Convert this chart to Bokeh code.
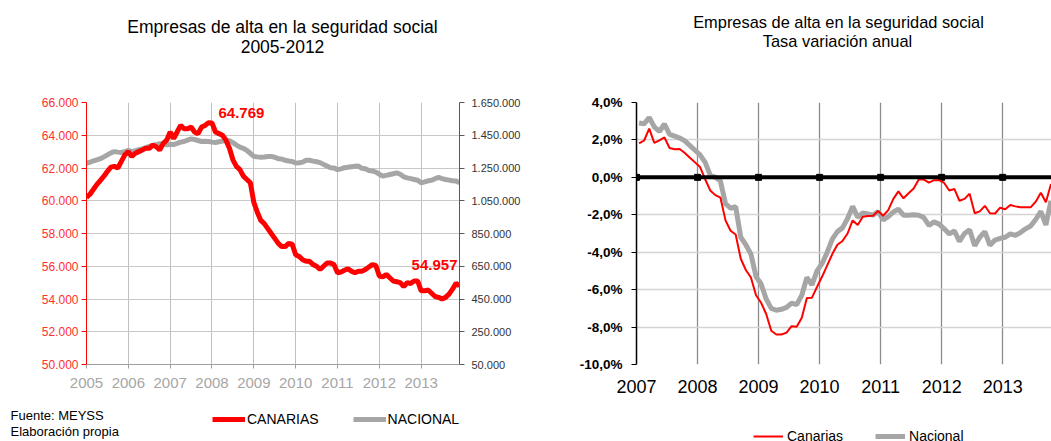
import pandas as pd
from bokeh.plotting import figure
from bokeh.layouts import row, column
from bokeh.models import Range1d, LinearAxis, FixedTicker, Label, Legend, LegendItem, Span
from bokeh.embed import file_html
from bokeh.resources import INLINE

FONT = "Liberation Sans"
RED = "#ff0000"
GREY = "#a6a6a6"

# ---------------- data: left chart (companies registered, monthly 2005-2013) ----------------
canarias_empresas = [
    60200, 60400, 60700, 61000, 61250, 61500, 61800, 62050, 62100, 62000, 62400, 62800,
    63000, 62700, 62900, 63000, 63100, 63200, 63200, 63400, 63300, 63100, 63500, 63700,
    64200, 63800, 64200, 64600, 64400, 64400, 64500, 64200, 64100, 64500, 64600, 64769,
    64750, 64200, 64100, 64000, 63700, 63200, 62500, 62100, 61900, 61500, 61300, 61100,
    59900, 59300, 58800, 58600, 58300, 58000, 57700, 57400, 57200, 57200, 57400, 57350,
    56700, 56600, 56400, 56300, 56300, 56100, 56000, 55800, 56000, 56200, 56200, 56100,
    55600, 55650, 55750, 55850, 55700, 55600, 55700, 55700, 55800, 55950, 56100, 56050,
    55400, 55350, 55500, 55300, 55100, 55050, 55000, 54750, 55000, 54950, 55100, 55100,
    54500, 54500, 54550, 54350, 54150, 54100, 54000, 54100, 54300, 54600, 54957, 54800,
]
nacional_empresas = [
    1280000, 1285000, 1293000, 1300000, 1307000, 1318000, 1330000, 1343000, 1350000, 1347000, 1345000, 1350000,
    1357000, 1350000, 1355000, 1362000, 1367000, 1375000, 1382000, 1388000, 1392000, 1398000, 1393000, 1392000,
    1394000, 1393000, 1400000, 1408000, 1412000, 1420000, 1428000, 1424000, 1418000, 1412000, 1414000, 1412000,
    1408000, 1406000, 1410000, 1414000, 1418000, 1416000, 1405000, 1390000, 1377000, 1370000, 1357000, 1340000,
    1321000, 1318000, 1316000, 1317000, 1320000, 1321000, 1316000, 1307000, 1305000, 1297000, 1293000, 1290000,
    1280000, 1282000, 1286000, 1297000, 1297000, 1292000, 1288000, 1283000, 1272000, 1262000, 1252000, 1250000,
    1240000, 1245000, 1252000, 1255000, 1258000, 1260000, 1262000, 1248000, 1245000, 1235000, 1232000, 1225000,
    1212000, 1200000, 1205000, 1210000, 1215000, 1220000, 1212000, 1196000, 1190000, 1185000, 1180000, 1175000,
    1160000, 1165000, 1172000, 1175000, 1185000, 1192000, 1185000, 1180000, 1176000, 1172000, 1170000, 1160000,
]
years_left = [2005, 2006, 2007, 2008, 2009, 2010, 2011, 2012, 2013]
ticks_canarias = [50000, 52000, 54000, 56000, 58000, 60000, 62000, 64000, 66000]
ticks_nacional = [50000, 250000, 450000, 650000, 850000, 1050000, 1250000, 1450000, 1650000]
label_peak = "64.769"
label_last = "54.957"

# ---------------- data: right chart (annual rate, %, monthly 2007-2013) ----------------
tasa_canarias = [
    1.81, 1.97, 2.6, 1.84, 1.98, 2.13, 1.57, 1.5, 1.52, 1.3, 1.05, 0.8,
    0.55, -0.1, -0.7, -0.95, -1.08, -2.3, -2.85, -3.05, -4.35, -4.95, -5.35, -6.3,
    -6.7, -7.3, -8.2, -8.4, -8.4, -8.3, -7.95, -7.98, -7.5, -6.45, -6.43, -5.85,
    -5.3, -4.7, -4.1, -3.6, -3.4, -3.0, -2.3, -2.55, -2.1, -2.07, -2.05, -1.8,
    -2.05, -1.75, -1.15, -0.75, -1.12, -0.85, -0.6, -0.12, -0.12, -0.28, -0.15, -0.15,
    -0.3, -0.7, -0.62, -1.25, -1.15, -0.87, -1.92, -1.82, -1.52, -1.92, -1.93, -1.62,
    -1.7, -1.48, -1.55, -1.6, -1.6, -1.6, -1.3, -0.82, -1.33, -0.35,
]
tasa_nacional = [
    2.9, 2.86, 3.2, 2.7, 2.45, 2.85, 2.3, 2.2, 2.1, 1.95, 1.7, 1.45,
    1.2, 0.8, 0.12, 0.0, -0.2, -1.4, -1.65, -1.57, -3.2, -3.6, -4.1, -5.3,
    -5.7, -6.5, -7.0, -7.1, -7.05, -6.95, -6.72, -6.8, -6.3, -5.35, -5.75, -5.0,
    -4.6, -4.0, -3.3, -2.9, -2.7, -2.2, -1.55, -2.13, -1.9, -1.95, -2.02, -1.82,
    -2.28, -2.1, -1.85, -1.7, -2.02, -2.02, -2.0, -2.02, -2.15, -2.57, -2.38, -2.5,
    -2.75, -3.02, -2.86, -3.42, -3.0, -2.8, -3.66, -3.2, -2.9, -3.63, -3.35, -3.26,
    -3.2, -3.02, -3.1, -2.95, -2.75, -2.6, -2.25, -1.82, -2.54, -1.25,
]
years_right = [2007, 2008, 2009, 2010, 2011, 2012, 2013]
ticks_tasa = [-10, -8, -6, -4, -2, 0, 2, 4]

meses_left = pd.date_range("2005-01-01", periods=len(canarias_empresas), freq="MS")
t_left = [d.year + (d.month - 1) / 12 for d in meses_left]
meses_right = pd.date_range("2007-01-01", periods=len(tasa_canarias), freq="MS")
t_right = [d.year + (d.month - 0.5) / 12 for d in meses_right]


def miles(v):
    return f"{v:,}".replace(",", ".")


def pct(v):
    return f"{v:.1f}%".replace(".", ",")


def label_in(p, x, y, text, **kw):
    """Text placed in screen px relative to the frame's bottom-left corner."""
    opts = dict(text_font=FONT, text_baseline="middle", text_align="left",
                text_font_size="12px", text_color="#000000")
    opts.update(kw)
    p.add_layout(Label(x=x, y=y, x_units="screen", y_units="screen", text=text, **opts))


def band(width, height):
    """A figure without axes whose frame fills the whole canvas (for titles / legends)."""
    b = figure(width=width, height=height, output_backend="svg", toolbar_location=None,
               x_axis_type=None, y_axis_type=None, x_range=Range1d(0, width), y_range=Range1d(0, height),
               min_border=0, min_border_left=0, min_border_right=0, min_border_top=0, min_border_bottom=0)
    b.outline_line_color = None
    b.grid.visible = False
    return b


TOP_H, MID_H, BOT_H = 56, 344, 41

# ======================= TITLES BAND =======================
p0 = band(1051, TOP_H)
label_in(p0, 282, TOP_H - 26, "Empresas de alta en la seguridad social", text_align="center", text_font_size="17.5px")
label_in(p0, 282, TOP_H - 46, "2005-2012", text_align="center", text_font_size="17.5px")
label_in(p0, 838, TOP_H - 21, "Empresas de alta en la seguridad social", text_align="center", text_font_size="16.4px")
label_in(p0, 837, TOP_H - 40, "Tasa variación anual", text_align="center", text_font_size="16.4px")

# ======================= LEFT CHART =======================
L_FL, L_FB = 86, 366  # frame left / bottom (page px)
p1 = figure(width=545, height=MID_H, output_backend="svg", toolbar_location=None,
            x_range=Range1d(2005, t_left[-1]), y_range=Range1d(50000, 66000),
            min_border_left=86, min_border_right=86, min_border_top=102 - TOP_H,
            min_border_bottom=TOP_H + MID_H - L_FB)
p1.outline_line_color = None
p1.extra_y_ranges = {"nac": Range1d(50000, 1650000)}

p1.xaxis.ticker = FixedTicker(ticks=years_left)
p1.xaxis.major_label_text_font = FONT
p1.xaxis.major_label_text_font_size = "15px"
p1.xaxis.major_label_text_color = "#a6a6a6"
p1.xaxis.axis_line_color = "#a0a0a0"
p1.xaxis.major_tick_line_color = "#a0a0a0"
p1.xaxis.major_tick_out = 4
p1.xaxis.major_tick_in = 0
p1.xaxis.minor_tick_line_color = None
p1.xaxis.major_label_standoff = 9

p1.yaxis.ticker = FixedTicker(ticks=ticks_canarias)
p1.yaxis.major_label_overrides = {v: miles(v) for v in ticks_canarias}
p1.yaxis.major_label_text_font = FONT
p1.yaxis.major_label_text_font_size = "12px"
p1.yaxis.major_label_text_color = "#ff3030"
p1.yaxis.axis_line_color = RED
p1.yaxis.major_tick_line_color = RED
p1.yaxis.major_tick_out = 5
p1.yaxis.major_tick_in = 0
p1.yaxis.minor_tick_line_color = None
p1.yaxis.major_label_standoff = 3

ax_r = LinearAxis(y_range_name="nac", ticker=FixedTicker(ticks=ticks_nacional),
                  major_label_overrides={v: miles(v) for v in ticks_nacional},
                  major_label_text_font=FONT, major_label_text_font_size="11px",
                  major_label_text_color="#333333", axis_line_color="#595959",
                  major_tick_line_color="#595959", major_tick_out=5, major_tick_in=0,
                  minor_tick_line_color=None, major_label_standoff=7)
p1.add_layout(ax_r, "right")

p1.xgrid.ticker = FixedTicker(ticks=years_left)
p1.xgrid.grid_line_color = "#c0c0c0"
p1.ygrid.ticker = FixedTicker(ticks=ticks_canarias)
p1.ygrid.grid_line_color = "#c8c8c8"

p1.line(t_left, nacional_empresas, y_range_name="nac", line_color=GREY, line_width=5)
p1.line(t_left, canarias_empresas, line_color=RED, line_width=5)

label_in(p1, 218 - L_FL, L_FB - 114, label_peak, text_color=RED, text_font_style="bold", text_font_size="15px")
label_in(p1, 457 - L_FL, L_FB - 266, label_last, text_align="right", text_color=RED,
         text_font_style="bold", text_font_size="15px")

# ======================= RIGHT CHART =======================
R_FL, R_FB = 636, 364
p2 = figure(width=506, height=MID_H, output_backend="svg", toolbar_location=None,
            x_range=Range1d(2007, 2013.8), y_range=Range1d(-10, 4),
            min_border_left=91, min_border_right=0, min_border_top=74 - TOP_H,
            min_border_bottom=TOP_H + MID_H - R_FB)
p2.outline_line_color = None

p2.xaxis.ticker = FixedTicker(ticks=years_right)
p2.xaxis.major_label_text_font = FONT
p2.xaxis.major_label_text_font_size = "18px"
p2.xaxis.major_label_text_color = "#000000"
p2.xaxis.axis_line_color = None
p2.xaxis.major_tick_line_color = None
p2.xaxis.minor_tick_line_color = None
p2.xaxis.major_label_standoff = 9

p2.yaxis.ticker = FixedTicker(ticks=ticks_tasa)
p2.yaxis.major_label_overrides = {v: pct(v) for v in ticks_tasa}
p2.yaxis.major_label_text_font = FONT
p2.yaxis.major_label_text_font_size = "13.5px"
p2.yaxis.major_label_text_font_style = "bold"
p2.yaxis.major_label_text_color = "#000000"
p2.yaxis.axis_line_color = "#000000"
p2.yaxis.axis_line_width = 1.5
p2.yaxis.major_tick_line_color = "#000000"
p2.yaxis.major_tick_out = 5
p2.yaxis.major_tick_in = 0
p2.yaxis.minor_tick_line_color = None
p2.yaxis.major_label_standoff = 9

p2.xgrid.ticker = FixedTicker(ticks=years_right)
p2.xgrid.grid_line_color = "#8c8c8c"
p2.xgrid.grid_line_width = 1.3
p2.ygrid.ticker = FixedTicker(ticks=ticks_tasa)
p2.ygrid.grid_line_color = "#d4d4d4"
p2.ygrid.grid_line_width = 1.5

p2.add_layout(Span(location=0, dimension="width", line_color="#000000", line_width=4))
p2.scatter(years_right, [0] * len(years_right), marker="square", size=6, color="#000000")

p2.line(t_right, tasa_nacional, line_color=GREY, line_width=5)
p2.line(t_right, tasa_canarias, line_color=RED, line_width=2)

# ======================= LEGENDS / SOURCE BAND =======================
# legend keys reuse the series data; in this band's ranges they fall outside the frame (not drawn)
p3 = band(1051, BOT_H)
k_can = p3.line(t_left, canarias_empresas, line_color=RED, line_width=5)
k_nac = p3.line(t_left, nacional_empresas, line_color=GREY, line_width=5)
k2_can = p3.line(t_right, tasa_canarias, line_color=RED, line_width=2)
k2_nac = p3.line(t_right, tasa_nacional, line_color=GREY, line_width=5)
for r in (k2_can, k2_nac):
    r.visible = True

BAND_Y0 = TOP_H + MID_H  # page y of this band's top
leg1 = Legend(items=[LegendItem(label="CANARIAS", renderers=[k_can]),
                     LegendItem(label="NACIONAL", renderers=[k_nac])],
              orientation="horizontal", location=(212, BOT_H - (429 - BAND_Y0)),
              glyph_width=33, glyph_height=20, label_height=20, label_standoff=2, spacing=34,
              padding=0, margin=0, border_line_color=None, background_fill_alpha=0,
              label_text_font=FONT, label_text_font_size="14px", label_text_color="#000000")
p3.add_layout(leg1, "center")

leg2 = Legend(items=[LegendItem(label="Canarias", renderers=[k2_can]),
                     LegendItem(label="Nacional", renderers=[k2_nac])],
              orientation="horizontal", location=(753, BOT_H - (446 - BAND_Y0)),
              glyph_width=30, glyph_height=20, label_height=20, label_standoff=4, spacing=32,
              padding=0, margin=0, border_line_color=None, background_fill_alpha=0,
              label_text_font=FONT, label_text_font_size="14px", label_text_color="#000000")
p3.add_layout(leg2, "center")

label_in(p3, 10, BOT_H - (415 - BAND_Y0), "Fuente: MEYSS", text_font_size="13px")
label_in(p3, 10, BOT_H - (431 - BAND_Y0), "Elaboración propia", text_font_size="13px")

layout = column(p0, row(p1, p2), p3)
open("out.html", "w").write(file_html(layout, INLINE))
